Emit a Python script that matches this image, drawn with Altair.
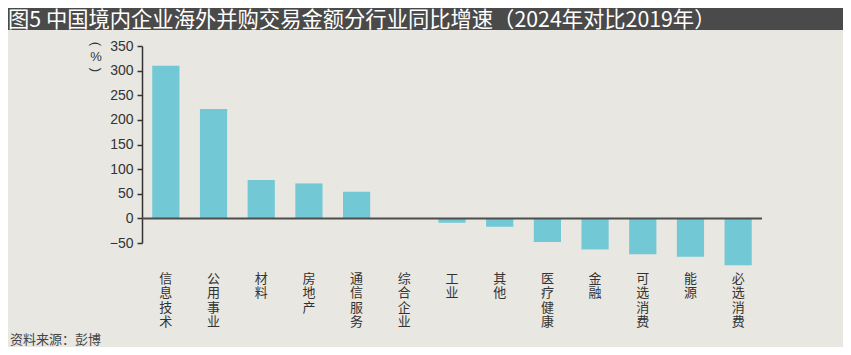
import altair as alt
import pandas as pd

categories = ["信息技术", "公用事业", "材料", "房地产", "通信服务", "综合企业", "工业",
              "其他", "医疗健康", "金融", "可选消费", "能源", "必选消费"]
values = [310, 222, 78, 71, 54, 0, -9, -17, -48, -63, -73, -78, -95]
y_ticks = [-50, 0, 50, 100, 150, 200, 250, 300, 350]
title_text = "图5 中国境内企业海外并购交易金额分行业同比增速（2024年对比2019年）"
source_text = "资料来源：彭博"

df = pd.DataFrame({"industry": categories, "growth": values})
one = pd.DataFrame({"k": [0]})
zero_df = pd.DataFrame({"growth": [0]})

W, H = 620, 197
PL, PT = 134, 38
BG = "#e8e7e1"
FONT = "Noto Sans CJK SC"

x_enc = alt.X(
    "industry:N", sort=categories, title=None,
    scale=alt.Scale(paddingInner=0.43, paddingOuter=0.215),
    axis=alt.Axis(labelAngle=0, labelExpr="split(datum.label, '')", labelBaseline="top",
                  labelLineHeight=14.5, labelFontSize=13, labelFont=FONT, labelColor="#333333",
                  labelPadding=29, ticks=False, domain=False, labelAlign="center"),
)
y_axis = alt.Axis(values=y_ticks, grid=False, domainColor="#333333", domainWidth=1.5,
                  tickColor="#333333", tickWidth=1.5, tickSize=5, labelFontSize=14,
                  labelFont="Liberation Sans", labelColor="#333333", labelPadding=4,
                  labelOverlap=False, labelFlush=False)
y_scale = alt.Scale(domain=[-50, 350], nice=False, zero=False)
y_enc = alt.Y("growth:Q", title=None, scale=y_scale, axis=y_axis)

bars = alt.Chart(df).mark_bar(color="#72c8d4", clip=False).encode(x=x_enc, y=y_enc)

zero = alt.Chart(zero_df).mark_rule(color="#4d4d4d", strokeWidth=2).encode(
    y=alt.Y("growth:Q", title=None, scale=y_scale, axis=y_axis)
)

title_bar = alt.Chart(one).mark_rect(color="#4a4a4a").encode(
    x=alt.value(-PL), x2=alt.value(835 - PL), y=alt.value(-PT), y2=alt.value(-16)
)
title = alt.Chart(one).mark_text(
    text=title_text, color="#ffffff", fontSize=21.3, font=FONT, align="left", baseline="middle"
).encode(x=alt.value(-PL), y=alt.value(-PT + 12.5))

unit_open = alt.Chart(one).mark_text(
    text="(", color="#333333", fontSize=13, font="Liberation Sans", align="center",
    baseline="middle", angle=90,
).encode(x=alt.value(-46), y=alt.value(-2))
unit_pct = alt.Chart(one).mark_text(
    text="%", color="#333333", fontSize=13, font="Liberation Sans", align="center",
    baseline="middle",
).encode(x=alt.value(-46), y=alt.value(11))
unit_close = alt.Chart(one).mark_text(
    text=")", color="#333333", fontSize=13, font="Liberation Sans", align="center",
    baseline="middle", angle=90,
).encode(x=alt.value(-46), y=alt.value(24))

source = alt.Chart(one).mark_text(
    text=source_text, color="#444444", fontSize=13, font=FONT, align="left", baseline="middle"
).encode(x=alt.value(-PL + 2), y=alt.value(340 - 8 - PT))

chart = alt.layer(title_bar, title, bars, zero, unit_open, unit_pct, unit_close, source).properties(
    width=W, height=H,
    autosize=alt.AutoSizeParams(type="none"),
    padding={"left": PL, "top": PT, "right": 835 - PL - W, "bottom": 339 - PT - H},
    background=BG,
).configure_view(stroke=None)

chart.save("out.html", embed_options={"renderer": "svg", "actions": False})
